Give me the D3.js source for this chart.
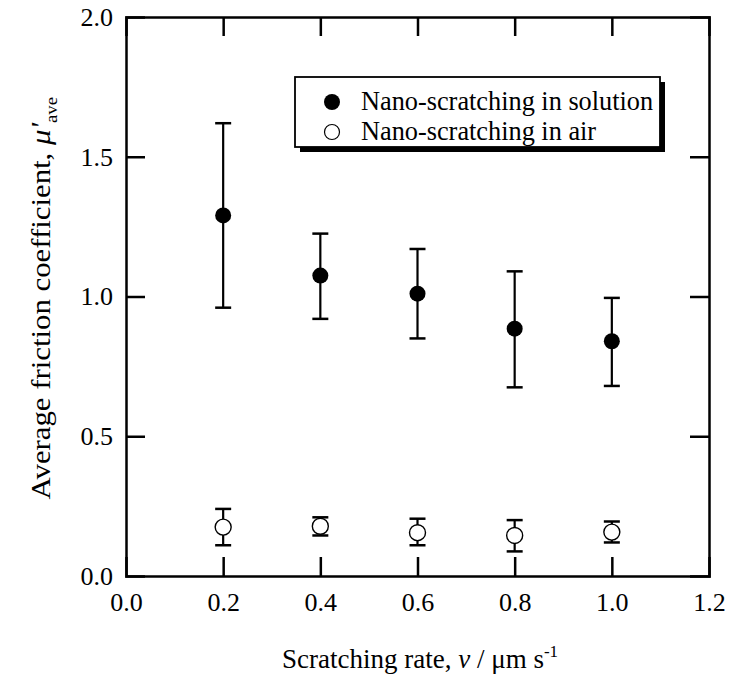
<!DOCTYPE html>
<html>
<head>
<meta charset="utf-8">
<script src="https://cdn.jsdelivr.net/npm/d3@7"></script>
<style>
  body { margin: 0; background: #fff; }
  text { font-family: "Liberation Serif", "Times New Roman", serif; fill: #000; }
</style>
</head>
<body>
<svg id="chart" width="730" height="684"></svg>
<script>
// scratching rate (um/s)
const rates = [0.2, 0.4, 0.6, 0.8, 1.0];
// nano-scratching in solution
const solMean = [1.29, 1.075, 1.01, 0.885, 0.84];
const solLow = [0.96, 0.92, 0.85, 0.675, 0.68];
const solHigh = [1.62, 1.225, 1.17, 1.09, 0.995];
// nano-scratching in air
const airMean = [0.175, 0.178, 0.155, 0.145, 0.157];
const airLow = [0.11, 0.145, 0.11, 0.088, 0.12];
const airHigh = [0.24, 0.21, 0.205, 0.2, 0.195];

const xTicks = [0, 0.2, 0.4, 0.6, 0.8, 1.0, 1.2];
const yTicks = [0, 0.5, 1.0, 1.5, 2.0];

const margin = { top: 17, right: 21, bottom: 108, left: 126 };
const width = 730, height = 684;

const svg = d3.select("#chart");

const x = d3.scaleLinear().domain([0, 1.2]).range([margin.left, width - margin.right]);
const y = d3.scaleLinear().domain([0, 2]).range([height - margin.bottom, margin.top]);

const tickLen = 19;

// axes, ticks inward on all four sides
svg.append("g")
  .attr("transform", "translate(0," + y(0) + ")")
  .call(d3.axisBottom(x).tickValues(xTicks).tickFormat(d3.format(".1f"))
    .tickSize(-tickLen).tickPadding(17))
  .call(g => g.selectAll("text").attr("font-size", 26));

svg.append("g")
  .attr("transform", "translate(0," + y(2) + ")")
  .call(d3.axisTop(x).tickValues(xTicks).tickFormat("").tickSize(-tickLen));

svg.append("g")
  .attr("transform", "translate(" + x(0) + ",0)")
  .call(d3.axisLeft(y).tickValues(yTicks).tickFormat(d3.format(".1f"))
    .tickSize(-tickLen).tickPadding(13))
  .call(g => g.selectAll("text").attr("font-size", 26));

svg.append("g")
  .attr("transform", "translate(" + x(1.2) + ",0)")
  .call(d3.axisRight(y).tickValues(yTicks).tickFormat("").tickSize(-tickLen));

svg.selectAll(".domain").attr("stroke", "#000").attr("stroke-width", 2.5);
svg.selectAll(".tick line").attr("stroke", "#000").attr("stroke-width", 2.5);

// hide ticks at frame corners
svg.selectAll(".tick").filter(d => d === 0 || d === 1.2 || d === 2.0)
  .select("line").attr("stroke", "none");

function series(means, lows, highs, filled) {
  const data = rates.map((r, i) => ({ r, m: means[i], lo: lows[i], hi: highs[i] }));
  const g = svg.append("g");
  const cap = 8;
  g.selectAll(".bar").data(data).join("line")
    .attr("x1", d => x(d.r)).attr("x2", d => x(d.r))
    .attr("y1", d => y(d.lo)).attr("y2", d => y(d.hi))
    .attr("stroke", "#000").attr("stroke-width", 2.2);
  g.selectAll(".capHi").data(data).join("line")
    .attr("x1", d => x(d.r) - cap).attr("x2", d => x(d.r) + cap)
    .attr("y1", d => y(d.hi)).attr("y2", d => y(d.hi))
    .attr("stroke", "#000").attr("stroke-width", 2.5);
  g.selectAll(".capLo").data(data).join("line")
    .attr("x1", d => x(d.r) - cap).attr("x2", d => x(d.r) + cap)
    .attr("y1", d => y(d.lo)).attr("y2", d => y(d.lo))
    .attr("stroke", "#000").attr("stroke-width", 2.5);
  g.selectAll("circle").data(data).join("circle")
    .attr("cx", d => x(d.r)).attr("cy", d => y(d.m))
    .attr("r", 8)
    .attr("fill", filled ? "#000" : "#fff")
    .attr("stroke", "#000").attr("stroke-width", filled ? 0 : 1.4);
}

series(airMean, airLow, airHigh, false);
series(solMean, solLow, solHigh, true);

// legend with drop shadow
const lg = svg.append("g");
lg.append("rect").attr("x", 300).attr("y", 82).attr("width", 365).attr("height", 70).attr("fill", "#000");
lg.append("rect").attr("x", 295).attr("y", 77).attr("width", 365).attr("height", 70)
  .attr("fill", "#fff").attr("stroke", "#000").attr("stroke-width", 1.8);
lg.append("circle").attr("cx", 332).attr("cy", 102).attr("r", 8).attr("fill", "#000");
lg.append("circle").attr("cx", 332).attr("cy", 132).attr("r", 7.5).attr("fill", "#fff")
  .attr("stroke", "#000").attr("stroke-width", 1.2);
lg.append("text").attr("x", 361).attr("y", 110).attr("font-size", 26.3).text("Nano-scratching in solution");
lg.append("text").attr("x", 361).attr("y", 140).attr("font-size", 26.3).text("Nano-scratching in air");

// x label
const xl = svg.append("text").attr("x", 282).attr("y", 668).attr("font-size", 27);
xl.append("tspan").text("Scratching rate, ");
xl.append("tspan").attr("font-style", "italic").text("v");
xl.append("tspan").text(" / \u03bcm s");
xl.append("tspan").attr("font-size", 17).attr("dy", -11).text("-1");

// y label
const yl = svg.append("text").attr("transform", "translate(50,97) rotate(-90) scale(1.1,1)")
  .attr("text-anchor", "end").attr("font-size", 28);
yl.append("tspan").text("Average friction coefficient, ");
yl.append("tspan").attr("font-style", "italic").text("\u03bc'");
yl.append("tspan").attr("font-size", 17).attr("dy", 7).text("ave");
</script>
</body>
</html>
